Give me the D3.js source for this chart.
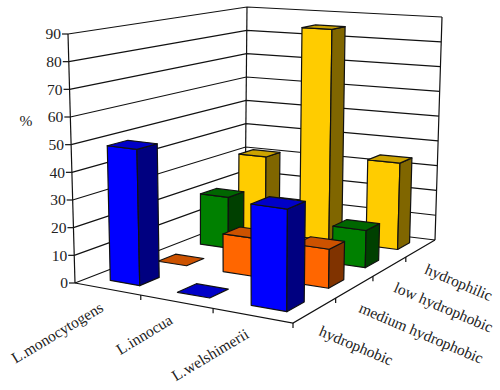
<!DOCTYPE html>
<html>
<head>
<meta charset="utf-8">
<script src="https://cdnjs.cloudflare.com/ajax/libs/d3/7.8.5/d3.min.js"></script>
<style>
  html, body { margin: 0; background: #fff; }
  svg { display: block; }
  text { font-family: "Liberation Serif", serif; font-size: 15.5px; fill: #222; }
</style>
</head>
<body>
<script>
var categories = ['L.monocytogens', 'L.innocua', 'L.welshimerii'];
var depths = ['hydrophobic', 'medium hydrophobic', 'low hydrophobic', 'hydrophilic'];
var hydrophobic = [49, 0, 35];
var mediumHydrophobic = [0, 14, 14];
var lowHydrophobic = [20, 0, 14];
var hydrophilic = [31, 85, 34];
var yTicks = [0, 10, 20, 30, 40, 50, 60, 70, 80, 90];

var seriesValues = [hydrophobic, mediumHydrophobic, lowHydrophobic, hydrophilic];
// front, side, top
var seriesColors = [
    ['#0000ff', '#000080', '#0000c8'],
    ['#ff6600', '#803300', '#cc5200'],
    ['#008000', '#004000', '#006600'],
    ['#ffcc00', '#806600', '#cca300']
];

var width = 500, height = 390;

var svg = d3.select('body').append('svg')
    .attr('width', width)
    .attr('height', height);

// The chart box in page pixels: left, front, right, back
var floorCorners = [[75, 283], [293, 323], [435, 240], [245, 217]];
var topCorners = [[68, 34], [295, 53], [442, 17], [247, 7]];

// Maps the unit square onto a four sided shape (square-to-quad homography)
var makeHomography = function(q) {
    var dx1 = q[1][0] - q[2][0], dx2 = q[3][0] - q[2][0], sx = q[0][0] - q[1][0] + q[2][0] - q[3][0],
        dy1 = q[1][1] - q[2][1], dy2 = q[3][1] - q[2][1], sy = q[0][1] - q[1][1] + q[2][1] - q[3][1],
        d = dx1 * dy2 - dx2 * dy1,
        g = (sx * dy2 - dx2 * sy) / d,
        h = (dx1 * sy - sx * dy1) / d;
    return function(u, v) {
        var w = g * u + h * v + 1;
        return [
            ((q[1][0] - q[0][0] + g * q[1][0]) * u + (q[3][0] - q[0][0] + h * q[3][0]) * v + q[0][0]) / w,
            ((q[1][1] - q[0][1] + g * q[1][1]) * u + (q[3][1] - q[0][1] + h * q[3][1]) * v + q[0][1]) / w
        ];
    };
};

var floorMap = makeHomography(floorCorners);
var topMap = makeHomography(topCorners);

// u: along the categories, v: along the depth rows, w: height, all 0..1
var project = function(u, v, w) {
    var a = floorMap(u, v), b = topMap(u, v);
    return [a[0] + (b[0] - a[0]) * w, a[1] + (b[1] - a[1]) * w];
};

// the bars sit a little off centre in their cells
var xScale = d3.scaleBand().domain(categories).range([0.012, 1.012]).paddingInner(0.55).paddingOuter(0.275);
var yScale = d3.scaleBand().domain(depths).range([0, 1]).paddingInner(0.6).paddingOuter(0.3);
var zScale = d3.scaleLinear().domain([0, 90]).range([0, 1]);

var line = d3.line();
var stroke = '#111';

var drawLine = function(points, sw) {
    svg.append('path')
        .attr('d', line(points))
        .attr('fill', 'none')
        .attr('stroke', stroke)
        .attr('stroke-width', sw || 1.2);
};

var makeWalls = function() {
    yTicks.forEach(function(t) {
        var z = zScale(t);
        drawLine([project(0, 0, z), project(0, 1, z), project(1, 1, z)]);
        var p = project(0, 0, z);
        drawLine([[p[0] - 6, p[1]], p]);
        svg.append('text')
            .attr('x', p[0] - 7)
            .attr('y', p[1])
            .attr('dy', '.35em')
            .attr('text-anchor', 'end')
            .text(t);
    });
    drawLine([project(0, 0, 0), project(0, 0, 1)]);
    drawLine([project(0, 1, 0), project(0, 1, 1)]);
    drawLine([project(1, 1, 0), project(1, 1, 1)]);
};

var makeFloor = function() {
    drawLine([project(0, 0, 0), project(1, 0, 0), project(1, 1, 0)]);
    d3.range(1, categories.length + 1).forEach(function(i) {
        var p = project(i / categories.length, 0, 0);
        drawLine([p, [p[0], p[1] + 5]]);
    });
    d3.range(1, depths.length).forEach(function(i) {
        var p = project(1, i / depths.length, 0);
        drawLine([p, [p[0], p[1] + 5]]);
    });
};

var face = function(points, fill) {
    svg.append('path')
        .attr('d', line(points) + 'Z')
        .attr('fill', fill)
        .attr('stroke', stroke)
        .attr('stroke-width', 1.2)
        .attr('stroke-linejoin', 'round');
};

var drawBar = function(cat, depthIndex, value) {
    var u0 = xScale(cat), u1 = u0 + xScale.bandwidth();
    var v0 = yScale(depths[depthIndex]), v1 = v0 + yScale.bandwidth();
    var z = zScale(value);
    var colors = seriesColors[depthIndex];
    if (value > 0) {
        face([project(u0, v0, 0), project(u1, v0, 0), project(u1, v0, z), project(u0, v0, z)], colors[0]);
        face([project(u1, v0, 0), project(u1, v1, 0), project(u1, v1, z), project(u1, v0, z)], colors[1]);
    }
    face([project(u0, v0, z), project(u1, v0, z), project(u1, v1, z), project(u0, v1, z)], colors[2]);
};

var drawBars = function() {
    // back rows first, then left to right, so nearer bars cover farther ones
    d3.range(depths.length - 1, -1, -1).forEach(function(d) {
        categories.forEach(function(cat, i) {
            drawBar(cat, d, seriesValues[d][i]);
        });
    });
};

var makeLabels = function() {
    svg.append('text').attr('x', 26).attr('y', 126).attr('text-anchor', 'middle').text('%');

    categories.forEach(function(cat) {
        var p = project(xScale(cat) + xScale.bandwidth() / 2, 0, 0);
        svg.append('text')
            .attr('transform', 'translate(' + (p[0] - 5) + ',' + (p[1] + 21) + ') rotate(-31)')
            .attr('text-anchor', 'end')
            .text(cat);
    });
    depths.forEach(function(dep) {
        var p = project(1, yScale(dep) + yScale.bandwidth() / 2, 0);
        svg.append('text')
            .attr('transform', 'translate(' + (p[0] + 3) + ',' + (p[1] + 25) + ') rotate(23)')
            .text(dep);
    });
};

makeWalls();
makeFloor();
drawBars();
makeLabels();
</script>
</body>
</html>
